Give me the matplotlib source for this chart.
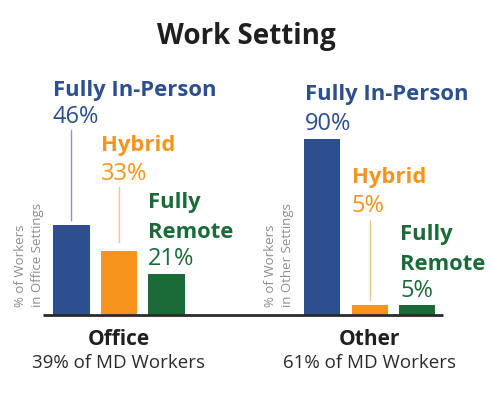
import matplotlib
matplotlib.use("Agg")
import matplotlib.pyplot as plt

plt.rcParams['font.family'] = ['Open Sans', 'DejaVu Sans']

# data
settings = ["Fully In-Person", "Hybrid", "Fully\nRemote"]
groups = ["Office", "Other"]
group_share = ["39% of MD Workers", "61% of MD Workers"]
axis_notes = ["% of Workers\nin Office Settings", "% of Workers\nin Other Settings"]
office_pct = [46, 33, 21]
other_pct = [90, 5, 5]

colors = ["#2D4F8E", "#F7941D", "#1B6B38"]
line_colors = ["#8A9BB8", "#F5C58A", "#1B6B38"]

fig = plt.figure(figsize=(4.93, 3.99), dpi=100)
ax = fig.add_axes([0, 0, 1, 1])
ax.set_xlim(-2.505, 7.874)
ax.set_ylim(-43.1, 161.5)
ax.axis("off")

fig.text(0.5, 0.89, "Work Setting", ha="center", va="baseline",
         fontsize=20, fontweight="bold", color="#1f1f1f")

centers = [0, 5.28]
note_x = [-1.895, 3.37]
# name line baselines and pct baseline for each bar
label_pos = [
    [(-0.39, [112.3], 98.5), (-0.38, [84.1], 69.2), (-0.39, [54.9, 39.5], 25.6)],
    [(-0.37, [110.3], 94.9), (-0.38, [67.7], 52.8), (-0.36, [38.5, 23.1], 9.2)],
]
leader = [
    [(94.9, 48.7), (65.6, 37.4), None],
    [None, (48.7, 7.7), None],
]

for g, vals in enumerate([office_pct, other_pct]):
    c = centers[g]
    xs = [c - 1, c, c + 1]
    ax.bar(xs, vals, width=0.76, color=colors, zorder=2)
    for i, v in enumerate(vals):
        dx, yn, yp = label_pos[g][i]
        for line, y in zip(settings[i].split("\n"), yn):
            ax.text(xs[i] + dx, y, line, ha="left", va="baseline",
                    fontsize=15.8, fontweight="bold", color=colors[i])
        ax.text(xs[i] + dx, yp, f"{v}%", ha="left", va="baseline",
                fontsize=17, color=colors[i])
        if leader[g][i] is not None:
            y0, y1 = leader[g][i]
            ax.plot([xs[i], xs[i]], [y0, y1], color=line_colors[i], lw=1)
    ax.text(c, -15.4, groups[g], ha="center", va="baseline",
            fontsize=15, fontweight="bold", color="#1f1f1f")
    ax.text(c, -27.2, group_share[g], ha="center", va="baseline",
            fontsize=13.5, color="#2a2a2a")
    ax.text(note_x[g], 4, axis_notes[g], rotation=90, ha="center",
            va="bottom", multialignment="left", fontsize=9.5,
            color="#8c8c8c", linespacing=1.4)

ax.plot([-1.6, 6.82], [0, 0], color="#2a2a2a", lw=2, zorder=3,
        solid_capstyle="butt")

fig.savefig("out.png", dpi=100)
